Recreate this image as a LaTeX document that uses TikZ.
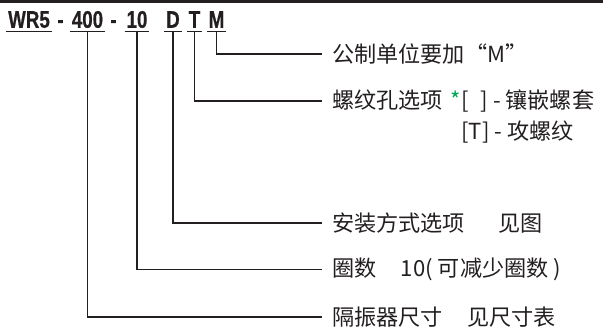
\documentclass[tikz,border=0pt]{standalone}
\usepackage{fontspec}
\usepackage{xcolor}
\usepackage{tikz}
\newfontfamily\cjk{Noto Sans CJK SC}
\newfontfamily\codefont[FakeStretch=0.78,FakeBold=0.6]{Liberation Sans Bold}
\definecolor{ink}{HTML}{231F20}
\definecolor{stargreen}{HTML}{00A651}

\begin{document}
\begin{tikzpicture}[
    x=0.75pt, y=-0.75pt,
    c1/.style={anchor=south, inner xsep=1.2pt, inner ysep=0pt, text depth=2.6pt, minimum width=11pt, text=ink, font=\codefont\fontsize{18}{21}\selectfont},
    t1/.style={anchor=west, inner xsep=7.5pt, inner ysep=0pt, text=ink, font=\cjk\fontsize{16.6}{20}\selectfont},
    ln/.style={draw=ink, line width=1.1pt}
]
    \useasboundingbox (0,0) rectangle (603,335);
    \fill [ink] (0,0) rectangle (603,3.5);

    % model code
    \node [c1] (c1) at (29,31.5) {WR5};
    \node [c1] (d1) at (60.5,31.5) {-};
    \node [c1] (c2) at (87.5,31.5) {400};
    \node [c1] (d2) at (113.5,31.5) {-};
    \node [c1] (c3) at (137,31.5) {10};
    \node [c1] (c4) at (173,31.5) {D};
    \node [c1] (c5) at (194.5,31.5) {T};
    \node [c1] (c6) at (216.5,31.5) {M};

    \draw [ln] (c1.south west) -- (c1.south east);
    \draw [ln] (c2.south west) -- (c2.south east);
    \draw [ln] (c3.south west) -- (c3.south east);
    \draw [ln] (c4.south west) -- (c4.south east);
    \draw [ln] (c5.south west) -- (c5.south east);
    \draw [ln] (c6.south west) -- (c6.south east);

    % explanations
    \node [t1] (t6) at (322,54) {公制单位要加“M”};
    \node [t1] (t5) at (322,101) {螺纹孔选项\hspace{0.35em}{\color{stargreen}*}[\hspace{0.55em}] - 镶嵌螺套};
    \node [t1] (t5b) at (451,132) {[T] - 攻螺纹};
    \node [t1] (t4) at (322,223) {安装方式选项\hspace{1.5em}见图};
    \node [t1] (t3) at (322,269.5) {圈数\hspace{1.1em}10( 可减少圈数 )};
    \node [t1] (t2) at (322,317) {隔振器尺寸\hspace{1.1em}见尺寸表};

    \draw [ln] (c6.south) |- (t6.west);
    \draw [ln] (c5.south) |- (t5.west);
    \draw [ln] (c4.south) |- (t4.west);
    \draw [ln] (c3.south) |- (t3.west);
    \draw [ln] (c2.south) |- (t2.west);
\end{tikzpicture}
\end{document}
